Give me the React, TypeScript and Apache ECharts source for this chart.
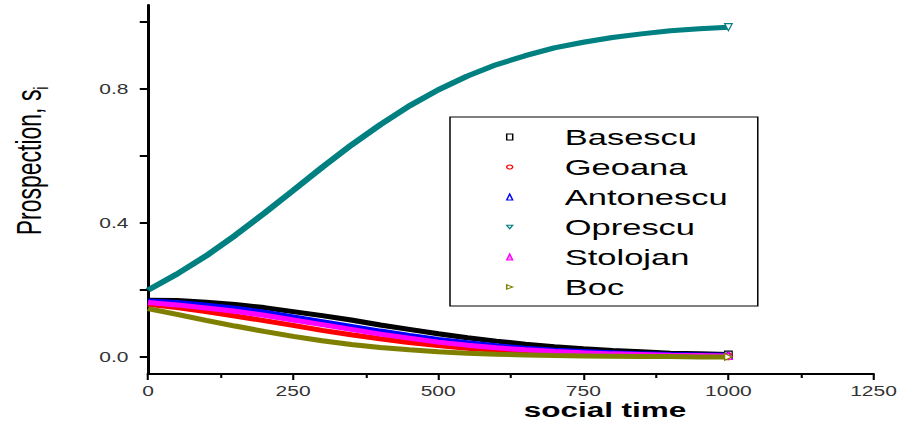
import React, { useEffect, useRef } from "react";
import * as echarts from "echarts";

// ---- data ----
const socialTime = [0, 50, 100, 150, 200, 250, 300, 350, 400, 450, 500, 550, 600, 650, 700, 750, 800, 850, 900, 950, 1000];
const basescu = [0.170, 0.169, 0.164, 0.157, 0.148, 0.136, 0.124, 0.111, 0.096, 0.083, 0.070, 0.058, 0.048, 0.039, 0.031, 0.025, 0.020, 0.016, 0.012, 0.010, 0.008];
const geoana = [0.158, 0.148, 0.136, 0.123, 0.109, 0.095, 0.080, 0.067, 0.055, 0.044, 0.035, 0.027, 0.021, 0.016, 0.012, 0.009, 0.007, 0.005, 0.004, 0.003, 0.003];
const antonescu = [0.168, 0.163, 0.155, 0.146, 0.134, 0.120, 0.106, 0.092, 0.078, 0.065, 0.053, 0.043, 0.034, 0.027, 0.021, 0.017, 0.013, 0.010, 0.008, 0.007, 0.006];
const oprescu = [0.200, 0.248, 0.302, 0.363, 0.429, 0.497, 0.566, 0.632, 0.693, 0.749, 0.797, 0.838, 0.872, 0.899, 0.922, 0.939, 0.953, 0.964, 0.973, 0.979, 0.984];
const stolojan = [0.163, 0.156, 0.147, 0.137, 0.125, 0.111, 0.097, 0.083, 0.069, 0.057, 0.045, 0.036, 0.028, 0.022, 0.017, 0.013, 0.010, 0.008, 0.006, 0.005, 0.004];
const boc = [0.145, 0.128, 0.110, 0.093, 0.077, 0.062, 0.049, 0.038, 0.029, 0.022, 0.016, 0.012, 0.009, 0.007, 0.005, 0.004, 0.003, 0.002, 0.002, 0.001, 0.001];

const candidates = ["Basescu", "Geoana", "Antonescu", "Oprescu", "Stolojan", "Boc"];
const seriesValues = [basescu, geoana, antonescu, oprescu, stolojan, boc];
const colors = ["#000000", "#ff0000", "#0000ff", "#008080", "#ff00ff", "#808000"];
const icons = [
  "rect",
  "circle",
  "triangle",
  "path://M0,0L10,0L5,9Z",
  "triangle",
  "path://M0,0L9,5L0,10Z",
];
const yTickValues = [0, 0.2, 0.4, 0.6, 0.8, 1.0];
const yLabelValues = [0, 0.4, 0.8];

// horizontal stretch of the original figure
const S = 1.5;
const W = 902 / S;
const FONT = "'Liberation Sans', Arial, sans-serif";

export default function App() {
  const ref = useRef<HTMLDivElement>(null);
  useEffect(() => {
    document.body.style.margin = "0";
    const chart = echarts.init(ref.current!, null, { renderer: "svg" });
    const series = candidates.map((name, i) => ({
      name,
      type: "line",
      color: colors[i],
      symbol: "none",
      showSymbol: true,
      lineStyle: { color: colors[i], width: 5 },
      z: 2 + i,
      data: seriesValues[i].map((v, k) =>
        k === seriesValues[i].length - 1
          ? {
              value: [socialTime[k], v],
              symbol: icons[i],
              symbolSize: [5, 7],
              itemStyle: { color: "#fff", borderColor: colors[i], borderWidth: 1 },
            }
          : { value: [socialTime[k], v] }
      ),
    }));

    chart.setOption({
      animation: false,
      backgroundColor: "#ffffff",
      grid: { left: 148 / S, right: 28 / S, top: 5, bottom: 49 },
      xAxis: {
        type: "value",
        min: 0,
        max: 1250,
        interval: 250,
        axisLine: { onZero: false, lineStyle: { color: "#000", width: 2 } },
        axisTick: { length: 6, lineStyle: { color: "#000", width: 1.4 } },
        minorTick: { show: true, splitNumber: 2, length: 4, lineStyle: { color: "#000", width: 1.4 } },
        splitLine: { show: false },
        axisLabel: {
          fontSize: 14,
          color: "#333",
          margin: 10,
          fontFamily: FONT,
          formatter: (v: number) => String(v),
        },
      },
      yAxis: {
        type: "value",
        min: -0.05,
        max: 1.05,
        axisLine: { show: true, onZero: false, lineStyle: { color: "#000", width: 2 } },
        axisTick: { show: true, length: 5.5, customValues: yTickValues, lineStyle: { color: "#000", width: 2 } },
        splitLine: { show: false },
        axisLabel: {
          customValues: yLabelValues,
          fontSize: 14,
          color: "#333",
          margin: 13,
          fontFamily: FONT,
          formatter: (v: number) => v.toFixed(1),
        },
      },
      legend: {
        orient: "vertical",
        left: 450 / S,
        top: 117,
        padding: [8, 20, 7, 37.3],
        itemGap: 6,
        itemWidth: 4,
        itemHeight: 6,
        borderColor: "#000",
        borderWidth: 1,
        backgroundColor: "#fff",
        textStyle: {
          fontSize: 23,
          lineHeight: 24,
          color: "#000",
          fontFamily: FONT,
          padding: [0, 0, 0, 29.7],
        },
        data: candidates.map((name, i) => ({
          name,
          icon: icons[i],
          itemStyle: {
            color: i === 4 ? "#ff99ff" : "#fff",
            borderColor: colors[i],
            borderWidth: 1,
          },
        })),
      },
      graphic: [
        {
          type: "text",
          x: 19,
          y: 161,
          rotation: Math.PI / 2,
          style: {
            text: "Prospection, s{sub|i}",
            fontSize: 23,
            fontFamily: FONT,
            fill: "#000",
            align: "center",
            verticalAlign: "middle",
            rich: {
              sub: { fontSize: 13, fontFamily: FONT, padding: [18, 0, 0, 0], lineHeight: 13 },
            },
          },
        },
        {
          type: "text",
          x: 605 / S,
          y: 410,
          style: {
            text: "social time",
            fontSize: 21,
            fontWeight: "bold",
            fontFamily: FONT,
            fill: "#000",
            align: "center",
            verticalAlign: "middle",
          },
        },
      ],
      series,
    });
    return () => chart.dispose();
  }, []);

  return (
    <div style={{ position: "absolute", left: 0, top: 0, width: 902, height: 423, overflow: "hidden", background: "#fff" }}>
      <div
        ref={ref}
        style={{ width: W, height: 423, transform: `scaleX(${S})`, transformOrigin: "0 0" }}
      />
    </div>
  );
}
